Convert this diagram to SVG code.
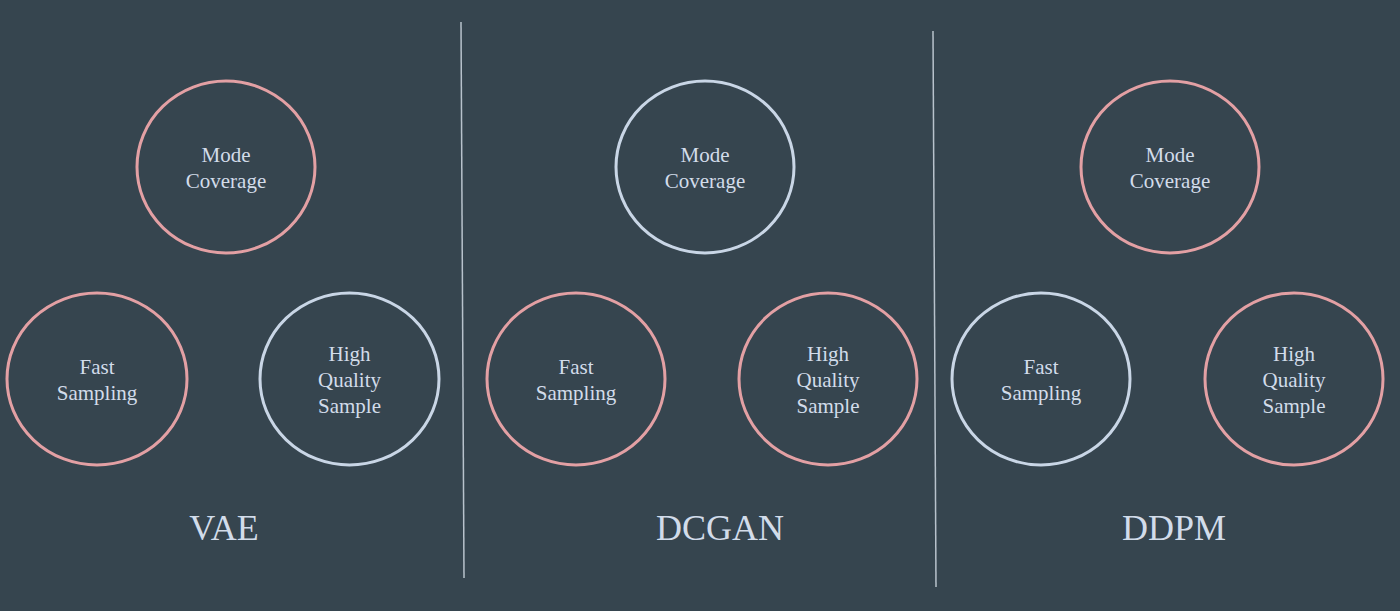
<svg xmlns="http://www.w3.org/2000/svg" width="1400" height="611" viewBox="0 0 1400 611">
<style>
.bg{fill:#36454f}
.pink{fill:none;stroke:#e3a0a4;stroke-width:3}
.blue{fill:none;stroke:#c9d6e6;stroke-width:3}
.t{font-family:"Liberation Serif","Times New Roman",serif;font-size:21px;fill:#d2dcea;text-anchor:middle}
.title{font-family:"Liberation Serif","Times New Roman",serif;font-size:36px;fill:#d2dcea;text-anchor:middle}
.sep{stroke:#b8c2cc;stroke-width:1.5}
</style>
<rect class="bg" x="0" y="0" width="1400" height="611"/>
<g id="separators">
<line class="sep" x1="461" y1="22" x2="464" y2="578"/>
<line class="sep" x1="933" y1="31" x2="936" y2="587"/>
</g>
<g id="vae">
<g id="vae-mode"><ellipse class="pink" cx="226" cy="167" rx="89" ry="86"/><text class="t" x="226" y="162">Mode</text><text class="t" x="226" y="188">Coverage</text></g>
<g id="vae-fast"><ellipse class="pink" cx="97" cy="379" rx="90" ry="86"/><text class="t" x="97" y="374">Fast</text><text class="t" x="97" y="400">Sampling</text></g>
<g id="vae-hq"><ellipse class="blue" cx="349.5" cy="379" rx="89.5" ry="86"/><text class="t" x="349.5" y="361">High</text><text class="t" x="349.5" y="387">Quality</text><text class="t" x="349.5" y="413">Sample</text></g>
<text id="vae-label" class="title" x="224" y="540">VAE</text>
</g>
<g id="dcgan">
<g id="dcgan-mode"><ellipse class="blue" cx="705" cy="167" rx="89" ry="86"/><text class="t" x="705" y="162">Mode</text><text class="t" x="705" y="188">Coverage</text></g>
<g id="dcgan-fast"><ellipse class="pink" cx="576" cy="379" rx="89" ry="86"/><text class="t" x="576" y="374">Fast</text><text class="t" x="576" y="400">Sampling</text></g>
<g id="dcgan-hq"><ellipse class="pink" cx="828" cy="379" rx="89" ry="86"/><text class="t" x="828" y="361">High</text><text class="t" x="828" y="387">Quality</text><text class="t" x="828" y="413">Sample</text></g>
<text id="dcgan-label" class="title" x="720" y="540">DCGAN</text>
</g>
<g id="ddpm">
<g id="ddpm-mode"><ellipse class="pink" cx="1170" cy="167" rx="89" ry="86"/><text class="t" x="1170" y="162">Mode</text><text class="t" x="1170" y="188">Coverage</text></g>
<g id="ddpm-fast"><ellipse class="blue" cx="1041" cy="379" rx="89" ry="86"/><text class="t" x="1041" y="374">Fast</text><text class="t" x="1041" y="400">Sampling</text></g>
<g id="ddpm-hq"><ellipse class="pink" cx="1294" cy="379" rx="89" ry="86"/><text class="t" x="1294" y="361">High</text><text class="t" x="1294" y="387">Quality</text><text class="t" x="1294" y="413">Sample</text></g>
<text id="ddpm-label" class="title" x="1174" y="540">DDPM</text>
</g>
</svg>
